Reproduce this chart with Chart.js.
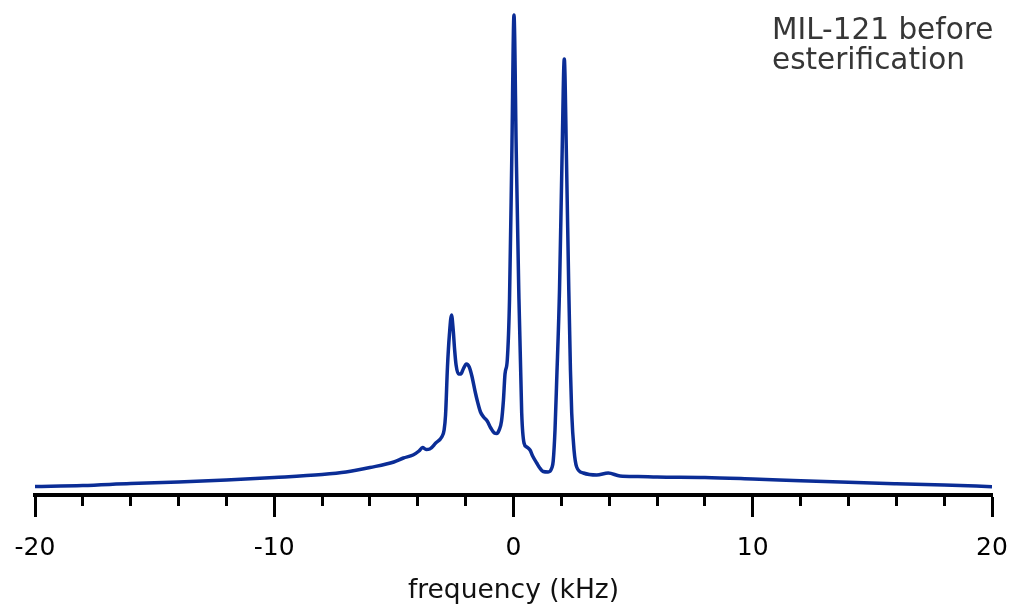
<!DOCTYPE html>
<html>
<head>
<meta charset="utf-8">
<script src="https://cdn.jsdelivr.net/npm/chart.js@4.4.0/dist/chart.umd.min.js"></script>
<style>
  html, body { margin: 0; padding: 0; background: #ffffff; }
  #wrap { width: 1011px; height: 610px; position: relative; }
</style>
</head>
<body>
<div id="wrap"><canvas id="c" width="1011" height="610"></canvas></div>
<script>
// ---- data ----
const freq = [
  -20, -18, -16, -14, -12, -10, -8, -7, -6, -5, -4.6, -4.2, -3.95, -3.8, -3.65, -3.5, -3.25, -3.0,
  -2.9, -2.84, -2.76, -2.68, -2.59, -2.52, -2.46, -2.4, -2.3, -2.2, -2.1, -1.97, -1.85, -1.74,
  -1.6, -1.5, -1.38, -1.25, -1.1, -0.95, -0.8, -0.7, -0.6, -0.5, -0.42, -0.355, -0.26, -0.167,
  -0.07, 0.02, 0.117, 0.22, 0.343, 0.44, 0.55, 0.69, 0.8, 0.97, 1.1, 1.24, 1.45, 1.6, 1.66,
  1.735, 1.806, 1.923, 2.027, 2.123, 2.215, 2.311, 2.38, 2.433, 2.53, 2.64, 2.92, 3.48, 3.96,
  4.45, 5.2, 6, 8, 10, 12, 14, 16, 18, 20
];
const intensity = [
  8.5, 9.5, 11.5, 13, 15, 17.5, 20.5, 23, 27.5, 33, 37, 40, 44, 47.5, 45.5, 46, 52, 58,
  65, 80, 128, 160, 180, 165, 145, 130, 121, 121, 126, 131, 128, 119,
  103, 93, 83, 78, 74, 67, 62, 61.5, 65, 74, 95, 121, 135, 195,
  340, 480, 340, 205, 82, 52, 48, 45, 39, 32, 27, 23.5, 23, 27, 34,
  65, 115, 205, 335, 436, 335, 205, 125, 82, 45, 28, 22, 20, 22,
  19, 18.5, 18, 17.5, 16, 14.3, 12.7, 11.3, 10, 8.3
];
const majorTicks = [-20, -10, 0, 10, 20];
const minorTicks = [-18, -16, -14, -12, -8, -6, -4, -2, 2, 4, 6, 8, 12, 14, 16, 18];
const xTitle = 'frequency (kHz)';
const sampleLabel = ['MIL-121 before', 'esterification'];

const points = freq.map((f, i) => ({ x: f, y: intensity[i] }));

const annotationPlugin = {
  id: 'sampleLabel',
  afterDraw(chart) {
    const ctx = chart.ctx;
    ctx.save();
    ctx.font = '29.5px "DejaVu Sans"';
    ctx.fillStyle = '#363636';
    ctx.textAlign = 'left';
    ctx.textBaseline = 'alphabetic';
    ctx.fillText(sampleLabel[0], 772, 39);
    ctx.fillText(sampleLabel[1], 772, 69);
    ctx.restore();
  }
};

new Chart(document.getElementById('c'), {
  type: 'line',
  data: {
    datasets: [{
      data: points,
      borderColor: '#0b2d96',
      borderWidth: 3.5,
      pointRadius: 0,
      fill: false,
      cubicInterpolationMode: 'monotone'
    }]
  },
  options: {
    responsive: false,
    animation: false,
    devicePixelRatio: 1,
    layout: { padding: 0 },
    plugins: { legend: { display: false }, tooltip: { enabled: false }, title: { display: false } },
    scales: {
      y: { display: false, min: 0, max: 495 },
      xm: {
        type: 'linear', position: 'bottom', weight: 0,
        min: -20, max: 20,
        afterBuildTicks: (s) => { s.ticks = minorTicks.map(v => ({ value: v })); },
        afterFit: (s) => { s.height = 0; s.paddingLeft = 35; s.paddingRight = 19; },
        ticks: { display: false },
        grid: { drawOnChartArea: false, drawTicks: true, tickLength: 11, tickWidth: 3, tickColor: '#000' },
        border: { display: false }
      },
      x: {
        type: 'linear', position: 'bottom', weight: 1,
        min: -20, max: 20,
        afterBuildTicks: (s) => { s.ticks = majorTicks.map(v => ({ value: v })); },
        afterFit: (s) => { s.height = 115; s.paddingLeft = 35; s.paddingRight = 19; },
        ticks: {
          autoSkip: false, maxRotation: 0, padding: 16, color: '#000',
          font: { family: '"DejaVu Sans"', size: 25 },
          callback: (v) => String(v)
        },
        grid: { drawOnChartArea: false, drawTicks: true, tickLength: 22, tickWidth: 3, tickColor: '#000' },
        border: { display: true, width: 4, color: '#000' },
        title: {
          display: true, text: xTitle, color: '#111',
          font: { family: '"DejaVu Sans"', size: 26.5 },
          padding: { top: 0, bottom: 3 }
        }
      }
    }
  },
  plugins: [annotationPlugin]
});
</script>
</body>
</html>
